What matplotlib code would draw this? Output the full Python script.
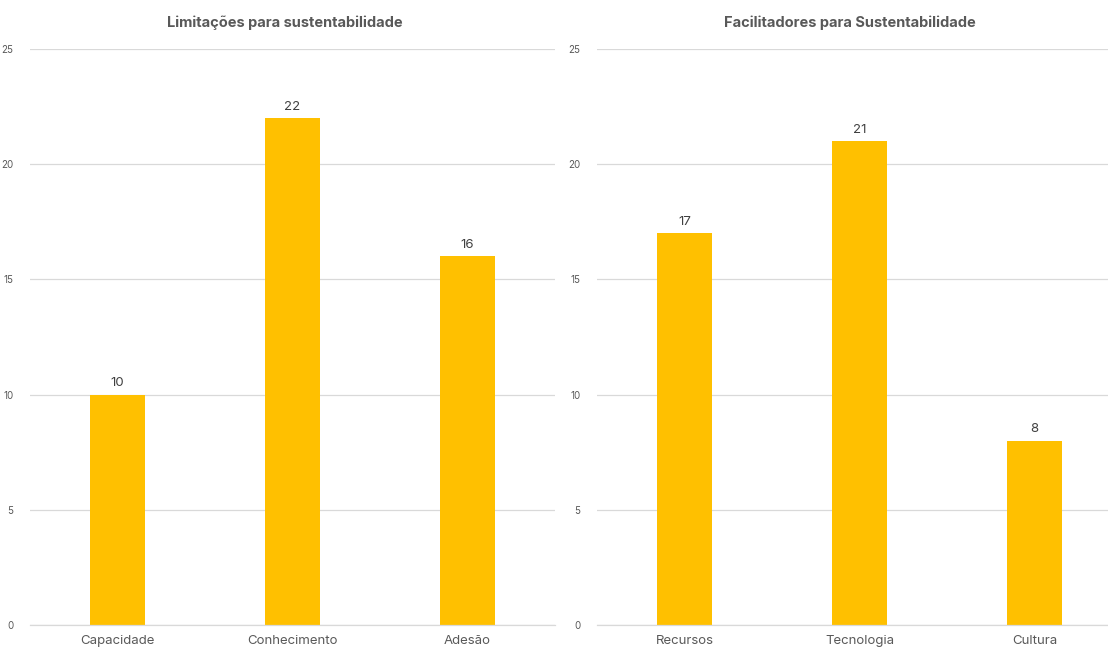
import matplotlib.pyplot as plt

plt.rcParams['font.family'] = ['Inter', 'DejaVu Sans']

# data
lim_labels = ["Capacidade", "Conhecimento", "Adesão"]
lim_values = [10, 22, 16]
fac_labels = ["Recursos", "Tecnologia", "Cultura"]
fac_values = [17, 21, 8]

titles = ["Limitações para sustentabilidade", "Facilitadores para Sustentabilidade"]

BAR = "#FFC000"
GRID = "#D9D9D9"
TXT = "#595959"

W, H = 1108, 648
fig = plt.figure(figsize=(W / 100, H / 100), dpi=100)


def panel(left_px, right_px, title_x, labels, values, title):
    y0, y25 = 625, 49
    ax = fig.add_axes([left_px / W, 1 - y0 / H, (right_px - left_px) / W, (y0 - y25) / H])
    x = range(len(labels))
    bars = ax.bar(x, values, width=0.314, color=BAR, zorder=2)
    ax.set_xlim(-0.5, 2.5)
    ax.set_ylim(0, 25)
    ax.set_yticks(range(0, 26, 5))
    ax.set_xticks(list(x))
    ax.set_xticklabels(labels, fontsize=9.5, color=TXT)
    ax.tick_params(axis='y', labelsize=7, colors=TXT, length=0, pad=12)
    ax.tick_params(axis='x', length=0, pad=7)
    ax.grid(axis='y', color=GRID, linewidth=0.9, zorder=0)
    for s in ["top", "right", "left"]:
        ax.spines[s].set_visible(False)
    ax.spines["bottom"].set_color(GRID)
    ax.spines["bottom"].set_linewidth(0.9)
    for b, v in zip(bars, values):
        ax.annotate(str(v), (b.get_x() + b.get_width() / 2, v), xytext=(0, 4),
                    textcoords="offset points", ha="center", va="bottom",
                    fontsize=9.5, color="#404040")
    fig.text(title_x / W, 1 - 23 / H, title, ha="center", va="center",
             fontsize=10.5, fontweight="bold", color=TXT)
    return ax


panel(30, 555, 285, lim_labels, lim_values, titles[0])
panel(597, 1122, 850, fac_labels, fac_values, titles[1])

fig.savefig("out.png", dpi=100)
